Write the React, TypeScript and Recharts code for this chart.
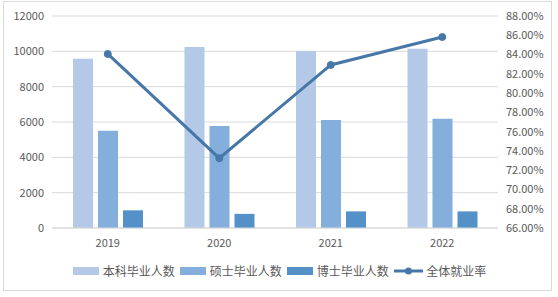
import React from 'react';
import { ComposedChart, Bar, Line, XAxis, YAxis, CartesianGrid, Legend } from 'recharts';

const years = ['2019', '2020', '2021', '2022'];
const bachelor = [9580, 10250, 10020, 10140];
const master = [5500, 5780, 6120, 6180];
const doctor = [1000, 800, 940, 940];
const employmentRate = [84.06, 73.25, 82.92, 85.82];
const leftTicks = [0, 2000, 4000, 6000, 8000, 10000, 12000];
const rightTicks = [66, 68, 70, 72, 74, 76, 78, 80, 82, 84, 86, 88];

const seriesNames = ['本科毕业人数', '硕士毕业人数', '博士毕业人数', '全体就业率'];
const colors = ['#b4c8e7', '#84aedc', '#5491c8', '#4677a8'];

const data = years.map((y, i) => ({
  year: y,
  bachelor: bachelor[i],
  master: master[i],
  doctor: doctor[i],
  rate: employmentRate[i],
}));

const FONT = '"Noto Sans CJK SC", "Noto Sans", sans-serif';
const TEXT = '#595959';
const GRID = '#d9d9d9';

const renderLegend = () => (
  <div
    style={{
      display: 'flex',
      alignItems: 'center',
      height: 20,
      paddingLeft: 72.7,
      fontFamily: FONT,
      fontSize: 12,
      color: TEXT,
      lineHeight: '20px',
      whiteSpace: 'nowrap',
    }}
  >
    {seriesNames.slice(0, 3).map((n, i) => (
      <div key={n} style={{ display: 'flex', alignItems: 'center', marginRight: 5 }}>
        <div style={{ width: 26.5, height: 7.5, background: colors[i], marginRight: 3.5 }} />
        <span>{n}</span>
      </div>
    ))}
    <div style={{ display: 'flex', alignItems: 'center' }}>
      <svg width={29} height={8} style={{ marginRight: 3.4 }}>
        <line x1={0} y1={4} x2={29} y2={4} stroke={colors[3]} strokeWidth={3} />
        <circle cx={14.5} cy={4} r={3.5} fill={colors[3]} />
      </svg>
      <span>{seriesNames[3]}</span>
    </div>
  </div>
);

export default function App() {
  const tickStyle = { fontSize: 11, fill: TEXT, fontFamily: FONT };
  return (
    <div style={{ position: 'absolute', left: 0, top: 0, width: 558, height: 297, background: '#fff' }}>
      <div
        style={{
          position: 'absolute',
          left: 3,
          top: 1,
          width: 549,
          height: 290,
          border: `1px solid ${GRID}`,
          boxSizing: 'border-box',
        }}
      />
      <ComposedChart
        width={558}
        height={297}
        data={data}
        margin={{ top: 16, right: 0, bottom: 16, left: 0 }}
        barSize={20}
        barGap={5}
      >
        <CartesianGrid yAxisId="left" vertical={false} stroke={GRID} strokeWidth={1} />
        <XAxis
          dataKey="year"
          height={33}
          tickLine={false}
          axisLine={{ stroke: GRID }}
          tickSize={6}
          tickMargin={5}
          tick={tickStyle}
        />
        <YAxis
          yAxisId="left"
          orientation="left"
          width={52}
          domain={[0, 12000]}
          ticks={leftTicks}
          tickLine={false}
          axisLine={false}
          tickSize={6}
          tickMargin={2}
          tick={tickStyle}
        />
        <YAxis
          yAxisId="right"
          orientation="right"
          width={60}
          domain={[66, 88]}
          ticks={rightTicks}
          tickLine={false}
          axisLine={false}
          tickSize={6}
          tickMargin={2}
          tick={tickStyle}
          tickFormatter={(v: number) => `${v.toFixed(2)}%`}
        />
        <Legend
          verticalAlign="bottom"
          content={renderLegend}
          wrapperStyle={{ left: 0, width: 558, bottom: 16, height: 20 }}
        />
        <Bar yAxisId="left" dataKey="bachelor" name={seriesNames[0]} fill={colors[0]} isAnimationActive={false} />
        <Bar yAxisId="left" dataKey="master" name={seriesNames[1]} fill={colors[1]} isAnimationActive={false} />
        <Bar yAxisId="left" dataKey="doctor" name={seriesNames[2]} fill={colors[2]} isAnimationActive={false} />
        <Line
          yAxisId="right"
          type="linear"
          dataKey="rate"
          name={seriesNames[3]}
          stroke={colors[3]}
          strokeWidth={3}
          dot={{ r: 3.5, fill: colors[3], stroke: colors[3], strokeWidth: 1 }}
          activeDot={false}
          isAnimationActive={false}
        />
      </ComposedChart>
    </div>
  );
}
